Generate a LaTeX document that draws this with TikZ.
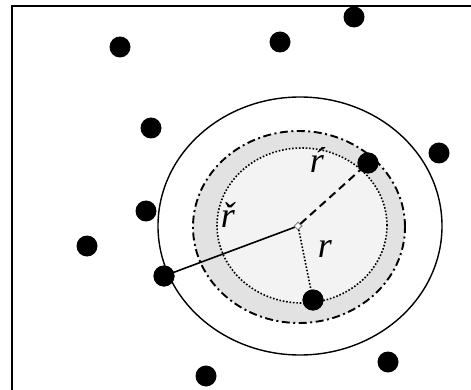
\documentclass[tikz,border=0pt]{standalone}
\usepackage{fontspec}
\newfontfamily\tmsfont{Liberation Serif}
\usetikzlibrary{shapes.geometric}
\definecolor{ringgray}{HTML}{E2E2E2}
\definecolor{innergray}{HTML}{F3F3F3}
\begin{document}
\begin{tikzpicture}[x=1pt,y=-1pt,
  pt/.style={circle,fill=black,inner sep=0pt,minimum size=21pt},
  lbl/.style={font=\fontsize{36}{38}\selectfont\tmsfont\itshape,inner sep=0pt},
  dotline/.style={line width=1.6pt,dash pattern=on 1.6pt off 1.8pt},
  dashline/.style={line width=2pt,dash pattern=on 8pt off 5pt},
  dashdotline/.style={line width=1.9pt,dash pattern=on 8pt off 3.5pt on 2pt off 3.5pt}]
\useasboundingbox (0,0) rectangle (471,390);
% frame
\draw[line width=1.8pt] (12,390) -- (12,6) -- (471,6);
% circles
\coordinate (c) at (300,226);
\fill[ringgray] (299,227) ellipse [x radius=106pt, y radius=96pt];
\draw[dashdotline] (299,227) ellipse [x radius=106pt, y radius=96pt];
\fill[innergray] (302,225.5) ellipse [x radius=85pt, y radius=77.5pt];
\draw[dotline] (302,225.5) ellipse [x radius=85pt, y radius=77.5pt];
\draw[line width=1.4pt] (c) ellipse [x radius=142pt, y radius=129pt];
% points
\node[pt] (p1) at (120,47) {};
\node[pt] (p2) at (280,42) {};
\node[pt] (p3) at (354,17) {};
\node[pt] (p4) at (151,128) {};
\node[pt] (p5) at (439,153) {};
\node[pt] (p6) at (368,163) {};
\node[pt] (p7) at (146,211) {};
\node[pt] (p8) at (87,246) {};
\node[pt] (p9) at (164,276) {};
\node[pt] (p10) at (313,300) {};
\node[pt] (p11) at (388,362) {};
\node[pt] (p12) at (206,376) {};
% center mark
\node[diamond,draw=gray,line width=1pt,inner sep=0pt,minimum size=8pt,fill=white] (ctr) at (298,226) {};
% radii
\draw[line width=1.6pt] (ctr) -- (p9.center);
\draw[dashline] (ctr) -- (p6.center);
\draw[dotline] (ctr) -- (p10.center);
\node[pt] at (p9) {};
\node[pt] at (p6) {};
\node[pt] at (p10) {};
% labels
\node[lbl] (l1) at (317,160) {ŕ};
\node[lbl] (l2) at (228,215) {ř};
\node[lbl] (l3) at (325,249) {r};
\end{tikzpicture}
\end{document}
